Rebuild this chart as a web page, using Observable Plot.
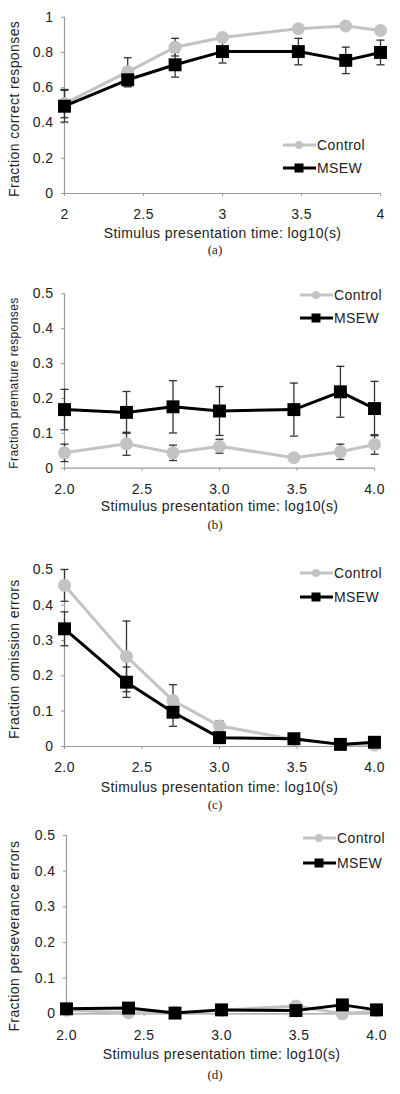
<!DOCTYPE html>
<html><head><meta charset="utf-8">
<script src="https://cdn.jsdelivr.net/npm/d3@7"></script>
<script src="https://cdn.jsdelivr.net/npm/@observablehq/plot@0.6"></script>
<style>
body{margin:0;background:#fff;}
#root{position:relative;width:400px;height:1094px;overflow:hidden;font-family:"Liberation Sans",Arial,sans-serif;}
.panel{position:absolute;left:0;}
.cap{position:absolute;left:0;width:430px;text-align:center;font-family:"Liberation Serif","Times New Roman",serif;font-size:13px;color:#222;line-height:16px;margin-top:-8px;}
.lrow{position:absolute;display:flex;align-items:center;height:16px;margin-top:-8px;font-size:14px;letter-spacing:0.4px;color:#222;white-space:nowrap;}
.lrow svg{margin-right:1px;}
</style></head>
<body><div id="root"></div>
<script>
// ---- data ----
const xLog = [2.0, 2.4, 2.7, 3.0, 3.48, 3.78, 4.0];
const seriesNames = ["Control", "MSEW"];

const ctrlA    = [0.51, 0.69, 0.83, 0.885, 0.935, 0.95, 0.925];
const ctrlAErr = [0.08, 0.08, 0.05, 0.02, 0.02, 0.015, 0.02];
const msewA    = [0.495, 0.645, 0.73, 0.805, 0.805, 0.755, 0.80];
const msewAErr = [0.09, 0.04, 0.07, 0.065, 0.075, 0.075, 0.07];

const ctrlB    = [0.044, 0.07, 0.044, 0.063, 0.03, 0.047, 0.068];
const ctrlBErr = [0.025, 0.033, 0.022, 0.02, 0.005, 0.022, 0.028];
const msewB    = [0.168, 0.16, 0.176, 0.164, 0.168, 0.219, 0.171];
const msewBErr = [0.058, 0.06, 0.075, 0.07, 0.076, 0.073, 0.078];

const ctrlC    = [0.456, 0.255, 0.13, 0.058, 0.02, 0.006, 0.004];
const ctrlCErr = [0.045, 0.1, 0.045, 0.015, 0.005, 0.003, 0.003];
const msewC    = [0.333, 0.182, 0.097, 0.025, 0.022, 0.006, 0.012];
const msewCErr = [0.048, 0.043, 0.04, 0.01, 0.008, 0.004, 0.006];

const ctrlD    = [0.01, 0.003, 0.003, 0.01, 0.022, 0.0, 0.008];
const ctrlDErr = [0.004, 0.003, 0.002, 0.004, 0.006, 0.002, 0.004];
const msewD    = [0.014, 0.016, 0.002, 0.011, 0.009, 0.025, 0.011];
const msewDErr = [0.005, 0.006, 0.002, 0.004, 0.004, 0.008, 0.004];

const xTicks = [2, 2.5, 3, 3.5, 4];
const xTickLabelsA = ["2", "2.5", "3", "3.5", "4"];
const xTickLabelsB = ["2.0", "2.5", "3.0", "3.5", "4.0"];
const yTicksA = [0, 0.2, 0.4, 0.6, 0.8, 1];
const yTickLabelsA = ["0", "0.2", "0.4", "0.6", "0.8", "1"];
const yTicksB = [0, 0.1, 0.2, 0.3, 0.4, 0.5];
const yTickLabelsB = ["0", "0.1", "0.2", "0.3", "0.4", "0.5"];
const xTitle = "Stimulus presentation time: log10(s)";
const yTitles = ["Fraction correct responses", "Fraction premature responses", "Fraction omission errors", "Fraction perseverance errors"];
const captions = ["(a)", "(b)", "(c)", "(d)"];

// ---- styles ----
const GRAY = "#c3c3c3", BLACK = "#000", ERR = "#333", AXIS = "#9a9a9a", TXT = "#222";
const capSymbol = {draw(ctx, size) { const w = Math.sqrt(size / Math.PI); ctx.moveTo(-w, 0); ctx.lineTo(w, 0); }};

const root = document.getElementById("root");

function panel(o) {
  const rows = xLog.map((x, i) => ({x, c: o.ctrl[i], ce: o.ctrlErr[i], m: o.msew[i], me: o.msewErr[i]}));
  const err = (v, e) => [
    Plot.ruleX(rows, {x: "x", y1: d => d[v] - d[e], y2: d => d[v] + d[e], stroke: ERR, strokeWidth: 1.3}),
    Plot.dot(rows, {x: "x", y: d => d[v] - d[e], symbol: capSymbol, r: 4, fill: "none", stroke: ERR, strokeWidth: 1.3}),
    Plot.dot(rows, {x: "x", y: d => d[v] + d[e], symbol: capSymbol, r: 4, fill: "none", stroke: ERR, strokeWidth: 1.3})
  ];
  const chart = Plot.plot({
    width: 400, height: o.height,
    marginTop: o.mt, marginBottom: o.mb, marginLeft: o.ml, marginRight: o.mr,
    style: {fontFamily: '"Liberation Sans", Arial, sans-serif', fontSize: "14px", letterSpacing: "0.4px", color: TXT, background: "#fff", overflow: "visible"},
    x: {domain: [2, 4]},
    y: {domain: o.yDomain},
    marks: [
      Plot.ruleX([2], {stroke: AXIS, strokeWidth: 1.2}),
      Plot.ruleY([0], {stroke: AXIS, strokeWidth: 1.2}),
      Plot.axisY({ticks: o.yTicks, tickFormat: d => o.yTickLabels[o.yTicks.indexOf(d)], tickSize: 3, tickPadding: 8, stroke: AXIS, fill: TXT, label: null}),
      Plot.axisX({ticks: xTicks, tickFormat: d => o.xTickLabels[xTicks.indexOf(d)], tickSize: 3, tickPadding: 13, stroke: AXIS, fill: TXT, label: null}),
      ...err("c", "ce"),
      ...err("m", "me"),
      Plot.line(rows, {x: "x", y: "c", stroke: GRAY, strokeWidth: 3}),
      Plot.dot(rows, {x: "x", y: "c", r: 6.5, fill: GRAY}),
      Plot.line(rows, {x: "x", y: "m", stroke: BLACK, strokeWidth: 3}),
      Plot.dot(rows, {x: "x", y: "m", symbol: "square", r: 7.3, fill: BLACK}),
      Plot.text([o.yTitle], {frameAnchor: "left", textAnchor: "middle", lineAnchor: "middle", rotate: -90, dx: -(o.ml - 14), dy: o.yTitleDy || 0,
        fill: TXT, fontSize: o.yTitleSize || 14}),
      Plot.text([xTitle], {frameAnchor: "bottom", textAnchor: "middle", dy: o.xTitleDy, fill: TXT})
    ]
  });
  const wrap = document.createElement("div");
  wrap.className = "panel";
  wrap.style.top = o.top + "px";
  wrap.appendChild(chart);
  root.appendChild(wrap);

  const cap = document.createElement("div");
  cap.className = "cap";
  cap.style.top = o.capY + "px";
  cap.textContent = o.caption;
  root.appendChild(cap);

  seriesNames.forEach((name, k) => {
    const row = document.createElement("div");
    row.className = "lrow";
    row.style.left = o.legX + "px";
    row.style.top = o.legY[k] + "px";
    const col = k === 0 ? GRAY : BLACK;
    const sym = k === 0
      ? `<circle cx="16" cy="7" r="4" fill="${col}"/>`
      : `<rect x="11.5" y="2.5" width="9" height="9" fill="${col}"/>`;
    row.innerHTML = `<svg width="33" height="14"><line x1="0" x2="33" y1="7" y2="7" stroke="${col}" stroke-width="3"/>${sym}</svg><span>${name}</span>`;
    root.appendChild(row);
  });
}

panel({top: 0, height: 245, mt: 16.7, mb: 52, ml: 64, mr: 20, yDomain: [0, 1], yTicks: yTicksA, yTickLabels: yTickLabelsA, xTickLabels: xTickLabelsA,
  yTitle: yTitles[0], yTitleDy: 3.5, xTitleDy: 44, ctrl: ctrlA, ctrlErr: ctrlAErr, msew: msewA, msewErr: msewAErr, caption: captions[0], capY: 250, legX: 283, legY: [145, 168]});
panel({top: 270, height: 250, mt: 23.3, mb: 52.3, ml: 64, mr: 26, yDomain: [0, 0.5], yTicks: yTicksB, yTickLabels: yTickLabelsB, xTickLabels: xTickLabelsB,
  yTitle: yTitles[1], yTitleDy: 2, yTitleSize: 12, xTitleDy: 42.3, ctrl: ctrlB, ctrlErr: ctrlBErr, msew: msewB, msewErr: msewBErr, caption: captions[1], capY: 525, legX: 300, legY: [295, 318]});
panel({top: 540, height: 260, mt: 29.3, mb: 54, ml: 64, mr: 26, yDomain: [0, 0.5], yTicks: yTicksB, yTickLabels: yTickLabelsB, xTickLabels: xTickLabelsB,
  yTitle: yTitles[2], yTitleDy: 1, xTitleDy: 45, ctrl: ctrlC, ctrlErr: ctrlCErr, msew: msewC, msewErr: msewCErr, caption: captions[2], capY: 805, legX: 300, legY: [573, 597]});
panel({top: 820, height: 250, mt: 15, mb: 56.7, ml: 66, mr: 24, yDomain: [0, 0.5], yTicks: yTicksB, yTickLabels: yTickLabelsB, xTickLabels: xTickLabelsB,
  yTitle: yTitles[3], yTitleDy: 11.5, xTitleDy: 44.7, ctrl: ctrlD, ctrlErr: ctrlDErr, msew: msewD, msewErr: msewDErr, caption: captions[3], capY: 1075, legX: 303, legY: [838, 863]});
</script>
</body></html>
